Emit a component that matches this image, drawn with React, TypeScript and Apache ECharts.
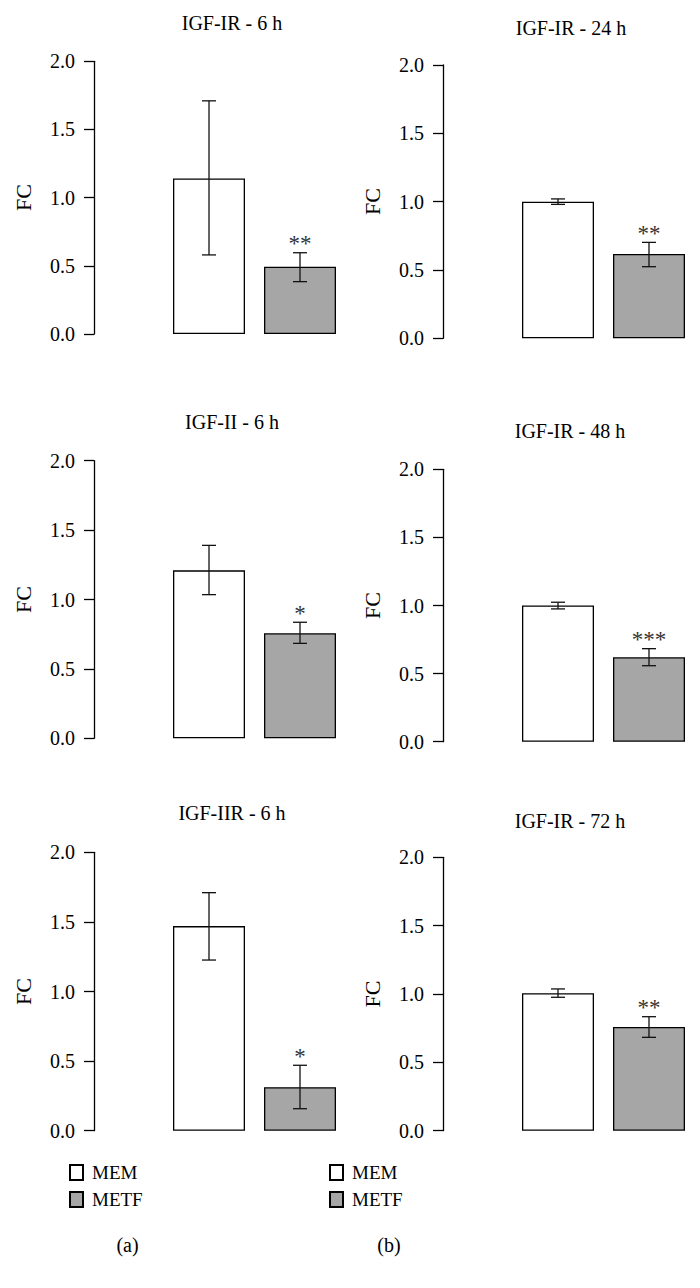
import React, { useEffect, useRef } from "react";
import * as echarts from "echarts";

// ---------- data ----------
const categories = ["MEM", "METF"];
const panelTitles = [
  "IGF-IR - 6 h",
  "IGF-IR - 24 h",
  "IGF-II - 6 h",
  "IGF-IR - 48 h",
  "IGF-IIR - 6 h",
  "IGF-IR - 72 h",
];
const memMean = [1.14, 1.0, 1.21, 1.0, 1.47, 1.005];
const memLow = [0.58, 0.98, 1.035, 0.975, 1.226, 0.976];
const memHigh = [1.71, 1.02, 1.39, 1.024, 1.71, 1.037];
const metfMean = [0.494, 0.617, 0.757, 0.62, 0.313, 0.759];
const metfLow = [0.384, 0.524, 0.684, 0.558, 0.158, 0.683];
const metfHigh = [0.596, 0.702, 0.836, 0.683, 0.47, 0.834];
const significance = ["**", "**", "*", "***", "*", "**"];
const yTicks = [0.0, 0.5, 1.0, 1.5, 2.0];
const yAxisName = "FC";
const panelLabels = ["(a)", "(b)"];

// ---------- layout ----------
const FONT = "'Liberation Serif', 'Times New Roman', serif";
const LAYOUT = [
  { axisX: 94, top: 61.3, bottom: 334, titleX: 232, titleY: 22.5 },
  { axisX: 443, top: 65, bottom: 338.3, titleX: 571, titleY: 27.5 },
  { axisX: 94, top: 460.7, bottom: 738.3, titleX: 232, titleY: 421.5 },
  { axisX: 443, top: 469.3, bottom: 741.7, titleX: 570, titleY: 431 },
  { axisX: 94, top: 852.3, bottom: 1130.7, titleX: 232, titleY: 813 },
  { axisX: 443, top: 857.3, bottom: 1130.7, titleX: 570, titleY: 821 },
];
const AXIS_OFFSET = 69.5;
const BAND_W = 182;
const BAR_W = 72;
const GREY = "#a6a6a6";
const LINE_W = 1.3;

function buildOption() {
  const grids: any[] = [];
  const xAxes: any[] = [];
  const yAxes: any[] = [];
  const series: any[] = [];
  const graphics: any[] = [];

  LAYOUT.forEach((p, i) => {
    grids.push({
      left: p.axisX + AXIS_OFFSET,
      top: p.top,
      width: BAND_W,
      height: p.bottom - p.top,
      containLabel: false,
    });
    xAxes.push({
      type: "category",
      gridIndex: i,
      data: categories,
      show: false,
    });
    yAxes.push({
      type: "value",
      gridIndex: i,
      min: yTicks[0],
      max: yTicks[yTicks.length - 1],
      interval: yTicks[1] - yTicks[0],
      offset: AXIS_OFFSET,
      name: yAxisName,
      nameLocation: "middle",
      nameGap: 60,
      nameTextStyle: { fontFamily: FONT, fontSize: 22, color: "#000" },
      axisLine: { show: true, lineStyle: { color: "#000", width: LINE_W } },
      axisTick: { show: true, length: 10, lineStyle: { color: "#000", width: LINE_W } },
      axisLabel: {
        fontFamily: FONT,
        fontSize: 20,
        color: "#000",
        margin: 19,
        formatter: (v: number) => v.toFixed(1),
      },
      splitLine: { show: false },
    });
    series.push({
      type: "bar",
      name: "MEM",
      xAxisIndex: i,
      yAxisIndex: i,
      stack: "s" + i,
      barWidth: BAR_W,
      data: [memMean[i], "-"],
      itemStyle: { color: "#ffffff", borderColor: "#000", borderWidth: LINE_W },
      z: 2,
    });
    series.push({
      type: "bar",
      name: "METF",
      xAxisIndex: i,
      yAxisIndex: i,
      stack: "s" + i,
      barWidth: BAR_W,
      data: ["-", metfMean[i]],
      itemStyle: { color: GREY, borderColor: "#000", borderWidth: LINE_W },
      z: 2,
    });
    const stars = ["", significance[i]];
    series.push({
      type: "custom",
      name: "err" + i,
      xAxisIndex: i,
      yAxisIndex: i,
      z: 5,
      encode: { x: 0, y: [1, 2] },
      data: [
        [0, memLow[i], memHigh[i]],
        [1, metfLow[i], metfHigh[i]],
      ],
      renderItem: (params: any, api: any) => {
        const xi = api.value(0);
        const lo = api.coord([xi, api.value(1)]);
        const hi = api.coord([xi, api.value(2)]);
        const cx = lo[0];
        const half = 7;
        const st = { stroke: "#111", lineWidth: LINE_W };
        const children: any[] = [
          { type: "line", shape: { x1: cx, y1: lo[1], x2: cx, y2: hi[1] }, style: st },
          { type: "line", shape: { x1: cx - half, y1: hi[1], x2: cx + half, y2: hi[1] }, style: st },
          { type: "line", shape: { x1: cx - half, y1: lo[1], x2: cx + half, y2: lo[1] }, style: st },
        ];
        const s = stars[params.dataIndex];
        if (s) {
          children.push({
            type: "text",
            x: cx,
            y: hi[1] - 9,
            style: {
              text: s,
              fontFamily: FONT,
              fontSize: 23,
              fill: "#333",
              align: "center",
              verticalAlign: "middle",
            },
          });
        }
        return { type: "group", children };
      },
    });
    graphics.push({
      type: "text",
      x: p.titleX,
      y: p.titleY,
      style: {
        text: panelTitles[i],
        fontFamily: FONT,
        fontSize: 20,
        fill: "#000",
        align: "center",
        verticalAlign: "middle",
      },
    });
  });

  [127.5, 389].forEach((x, c) => {
    graphics.push({
      type: "text",
      x,
      y: 1244.5,
      style: {
        text: panelLabels[c],
        fontFamily: FONT,
        fontSize: 20,
        fill: "#000",
        align: "center",
        verticalAlign: "middle",
      },
    });
  });

  const legends = [69, 329].map((left) => ({
    data: categories,
    orient: "vertical",
    left,
    top: 1163,
    padding: 0,
    itemWidth: 13,
    itemHeight: 15,
    itemGap: 8,
    icon: "rect",
    selectedMode: false,
    textStyle: {
      fontFamily: FONT,
      fontSize: 19,
      lineHeight: 15,
      color: "#000",
      padding: [0, 0, 0, 4],
    },
  }));

  return {
    animation: false,
    backgroundColor: "#ffffff",
    textStyle: { fontFamily: FONT },
    grid: grids,
    xAxis: xAxes,
    yAxis: yAxes,
    series,
    legend: legends,
    graphic: graphics,
  };
}

export default function App() {
  const ref = useRef<HTMLDivElement>(null);
  useEffect(() => {
    if (!ref.current) return;
    const chart = echarts.init(ref.current, null, { renderer: "svg" });
    chart.setOption(buildOption() as any);
    return () => chart.dispose();
  }, []);
  return (
    <div
      ref={ref}
      style={{ position: "absolute", left: 0, top: 0, width: 700, height: 1288, background: "#fff" }}
    />
  );
}
